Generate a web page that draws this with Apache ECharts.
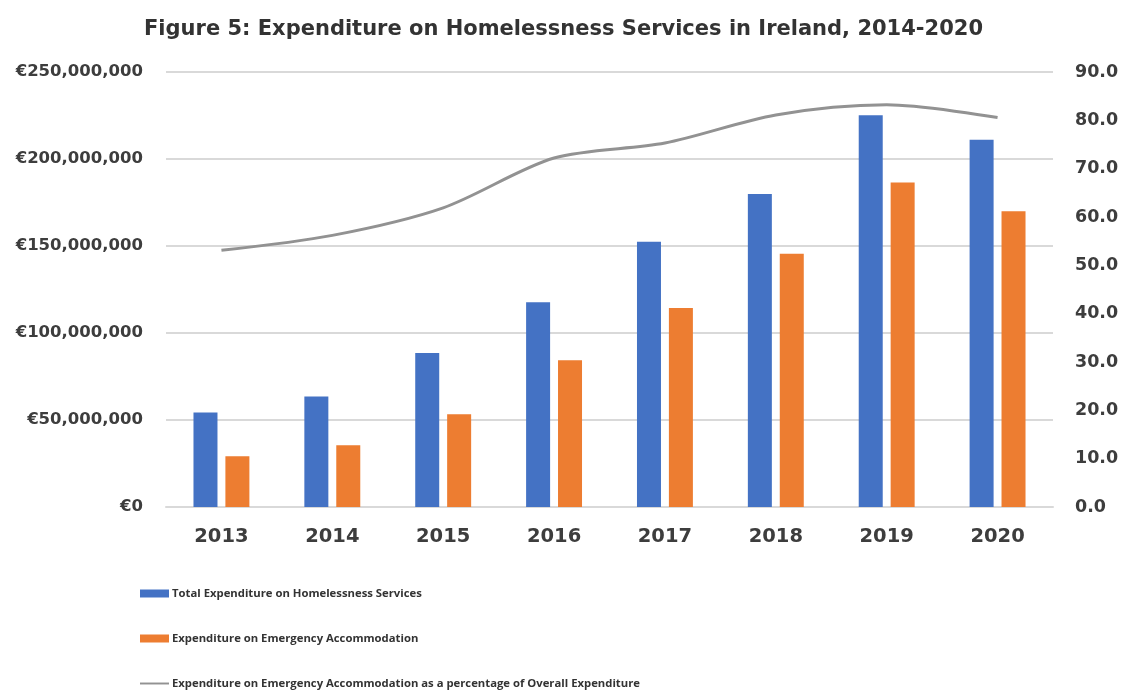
<!DOCTYPE html>
<html>
<head>
<meta charset="utf-8">
<title>Expenditure on Homelessness Services in Ireland</title>
<script src="https://cdn.jsdelivr.net/npm/echarts@6/dist/echarts.min.js"></script>
<style>
  html, body { margin: 0; padding: 0; background: #ffffff; }
  #chart { width: 1127px; height: 699px; }
</style>
</head>
<body>
<div id="chart"></div>
<script>
// Years on the category axis
const years = ['2013', '2014', '2015', '2016', '2017', '2018', '2019', '2020'];

// Total spend on homelessness services (euro)
const totalExpenditure = [54300000, 63500000, 88500000, 117700000, 152500000, 179900000, 225200000, 211000000];

// Spend on emergency accommodation (euro)
const emergencyExpenditure = [29100000, 35500000, 53300000, 84300000, 114300000, 145500000, 186500000, 169900000];

// Emergency accommodation as a share of overall spend (%)
const emergencyShare = [53.1, 56.2, 61.9, 72.2, 75.3, 81.1, 83.2, 80.6];

const seriesNames = [
  'Total Expenditure on Homelessness Services',
  'Expenditure on Emergency Accommodation',
  'Expenditure on Emergency Accommodation as a percentage of Overall Expenditure'
];

const WIDE = '"DejaVu Sans", "Open Sans", sans-serif';
const NARROW = '"Open Sans", "DejaVu Sans", sans-serif';
const TEXT = '#3d3d3d';

function euro(v) {
  return '\u20AC' + Math.round(v).toString().replace(/\B(?=(\d{3})+(?!\d))/g, ',');
}

function legendRow(name, top, icon, iconHeight) {
  return {
    data: [name],
    left: 140,
    top: top,
    padding: 0,
    icon: icon,
    itemWidth: 29,
    itemHeight: iconHeight,
    itemGap: 0,
    selectedMode: false,
    textStyle: { fontFamily: NARROW, fontWeight: 'bold', fontSize: 11.3, color: '#333333', padding: [0, 0, 0, -2] }
  };
}

const chart = echarts.init(document.getElementById('chart'), null, { renderer: 'canvas' });

chart.setOption({
  backgroundColor: '#ffffff',
  animation: false,
  title: {
    text: 'Figure 5: Expenditure on Homelessness Services in Ireland, 2014-2020',
    left: 'center',
    top: 14,
    textStyle: { fontFamily: WIDE, fontWeight: 'bold', fontSize: 21, color: '#333333' }
  },
  legend: [
    legendRow(seriesNames[0], 588, 'rect', 8),
    legendRow(seriesNames[1], 633, 'rect', 8),
    legendRow(seriesNames[2], 678, 'path://M0,6 L30,6 L30,8 L0,8 Z', 14)
  ],
  grid: { left: 166, right: 74, top: 72, bottom: 192 },
  xAxis: {
    type: 'category',
    data: years,
    axisTick: { show: false },
    axisLine: { show: true, lineStyle: { color: '#d9d9d9', width: 2 } },
    axisLabel: { fontFamily: WIDE, fontWeight: 'bold', fontSize: 19.5, color: TEXT, margin: 20 }
  },
  yAxis: [
    {
      type: 'value',
      min: 0,
      max: 250000000,
      interval: 50000000,
      axisLine: { show: false },
      axisTick: { show: false },
      splitLine: { lineStyle: { color: '#d9d9d9', width: 2 } },
      axisLabel: { fontFamily: WIDE, fontWeight: 'bold', fontSize: 16.5, color: TEXT, margin: 23, formatter: euro }
    },
    {
      type: 'value',
      min: 0,
      max: 90,
      interval: 10,
      position: 'right',
      axisLine: { show: false },
      axisTick: { show: false },
      splitLine: { show: false },
      axisLabel: { fontFamily: WIDE, fontWeight: 'bold', fontSize: 17.5, color: TEXT, margin: 22, formatter: v => v.toFixed(1) }
    }
  ],
  series: [
    {
      name: seriesNames[0],
      type: 'bar',
      data: totalExpenditure,
      barWidth: 24,
      barGap: '33%',
      itemStyle: { color: '#4472C4' }
    },
    {
      name: seriesNames[1],
      type: 'bar',
      data: emergencyExpenditure,
      barWidth: 24,
      barGap: '33%',
      itemStyle: { color: '#ED7D31' }
    },
    {
      name: seriesNames[2],
      type: 'line',
      yAxisIndex: 1,
      data: emergencyShare,
      smooth: 0.3,
      symbol: 'none',
      lineStyle: { color: '#929292', width: 3 },
      itemStyle: { color: '#929292' }
    }
  ]
});
</script>
</body>
</html>
